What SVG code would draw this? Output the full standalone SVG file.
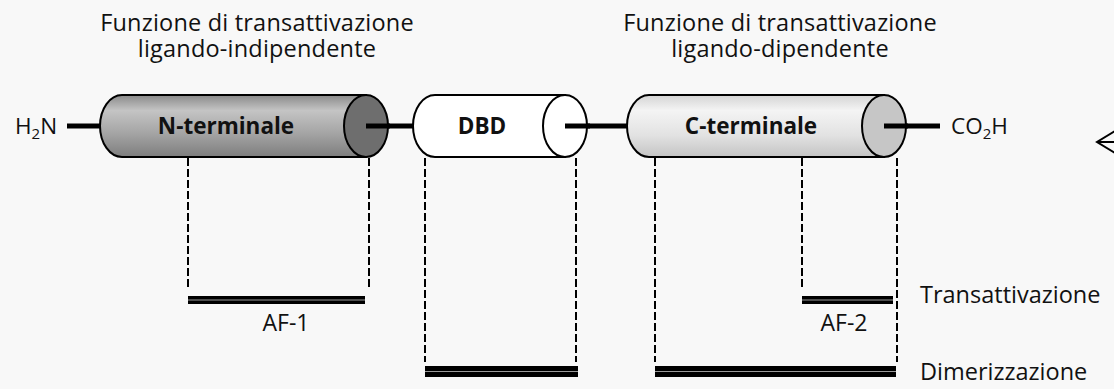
<svg xmlns="http://www.w3.org/2000/svg" width="1114" height="389" viewBox="0 0 1114 389">
<defs>
<linearGradient id="gN" x1="0" y1="0" x2="0" y2="1">
<stop offset="0" stop-color="#8a8a8a"/>
<stop offset="0.25" stop-color="#c4c4c4"/>
<stop offset="0.6" stop-color="#a6a6a6"/>
<stop offset="1" stop-color="#7e7e7e"/>
</linearGradient>
<linearGradient id="gC" x1="0" y1="0" x2="0" y2="1">
<stop offset="0" stop-color="#d4d4d4"/>
<stop offset="0.25" stop-color="#f4f4f4"/>
<stop offset="0.65" stop-color="#e2e2e2"/>
<stop offset="1" stop-color="#c4c4c4"/>
</linearGradient>
<style>
.t{font-family:"Open Sans","Noto Sans",sans-serif;font-size:23.5px;fill:#111}
.s{font-family:"Open Sans","Noto Sans",sans-serif;font-size:22.5px;fill:#111}
.a{font-family:"Open Sans","Noto Sans",sans-serif;font-size:23px;fill:#111}
.b{font-family:"Open Sans","Noto Sans",sans-serif;font-size:22.5px;font-weight:bold;fill:#111}
.o{stroke:#000;stroke-width:2}
.bk{stroke:#000;stroke-width:5;fill:none}
.d{stroke:#000;stroke-width:2;stroke-dasharray:8 3;fill:none}
.bar{fill:#000}
.gap{stroke:#9a9a9a;stroke-width:1.2}
</style>
</defs>
<rect width="1114" height="389" fill="#f8f8f8"/>
<g id="title-left">
<text class="t" text-anchor="middle" letter-spacing="0.2"><tspan x="257" y="31">Funzione di transattivazione</tspan><tspan x="257" y="57">ligando-indipendente</tspan></text>
</g>
<g id="title-right">
<text class="t" text-anchor="middle" letter-spacing="0.2"><tspan x="780" y="31">Funzione di transattivazione</tspan><tspan x="780" y="57">ligando-dipendente</tspan></text>
</g>
<g id="connectors">
<line class="bk" x1="67" y1="126" x2="101" y2="126"/>
<line class="bk" x1="366" y1="126" x2="414" y2="126"/>
<line class="bk" x1="565" y1="126" x2="628" y2="126"/>
<line class="bk" x1="884" y1="126" x2="940" y2="126"/>
<path class="d" d="M188 158V290M369 158V290M425 158V362M576 158V362M655 158V362M802 158V289M897 158V362"/>
</g>
<g id="h2n"><text class="s" x="15" y="134">H<tspan font-size="15" dy="5">2</tspan><tspan dy="-5">N</tspan></text></g>
<g id="nterm">
<path class="o" fill="url(#gN)" d="M366 95H122A22 31 0 0 0 122 157H366Z"/>
<ellipse class="o" cx="366" cy="126" rx="22" ry="31" fill="#6e6e6e"/>
<line class="bk" x1="366" y1="126" x2="390" y2="126"/>
<text class="b" x="226" y="134" text-anchor="middle">N-terminale</text>
</g>
<g id="dbd">
<path class="o" fill="#fff" d="M565 95H435A22 31 0 0 0 435 157H565Z"/>
<ellipse class="o" cx="565" cy="126" rx="22" ry="31" fill="#fff"/>
<line class="bk" x1="565" y1="126" x2="590" y2="126"/>
<text class="b" x="482" y="134" text-anchor="middle">DBD</text>
</g>
<g id="cterm">
<path class="o" fill="url(#gC)" d="M884 95H649A22 31 0 0 0 649 157H884Z"/>
<ellipse class="o" cx="884" cy="126" rx="22" ry="31" fill="#c6c6c6"/>
<line class="bk" x1="884" y1="126" x2="908" y2="126"/>
<text class="b" x="751" y="134" text-anchor="middle">C-terminale</text>
</g>
<g id="co2h"><text class="s" x="951" y="134">CO<tspan font-size="15" dy="5">2</tspan><tspan dy="-5">H</tspan></text></g>
<g id="af1">
<rect class="bar" x="188" y="296" width="177" height="8"/>
<line class="gap" x1="188" y1="300" x2="365" y2="300"/>
<text class="a" x="286" y="331" text-anchor="middle">AF-1</text>
</g>
<g id="af2">
<rect class="bar" x="802" y="296" width="91" height="8"/>
<line class="gap" x1="802" y1="300" x2="893" y2="300"/>
<text class="a" x="844" y="331" text-anchor="middle">AF-2</text>
</g>
<g id="dim-dbd">
<rect class="bar" x="425" y="366" width="153" height="11"/>
<line class="gap" x1="425" y1="371.5" x2="578" y2="371.5"/>
</g>
<g id="dim-c">
<rect class="bar" x="655" y="366" width="241" height="11"/>
<line class="gap" x1="655" y1="371.5" x2="896" y2="371.5"/>
</g>
<g id="labels">
<text class="t" x="920" y="303">Transattivazione</text>
<text class="t" x="920" y="380">Dimerizzazione</text>
</g>
<g id="arrow">
<polyline points="1115,131 1097,142 1115,153" fill="none" stroke="#000" stroke-width="2"/>
<line x1="1097" y1="142" x2="1114" y2="142" stroke="#000" stroke-width="2"/>
</g>
</svg>
